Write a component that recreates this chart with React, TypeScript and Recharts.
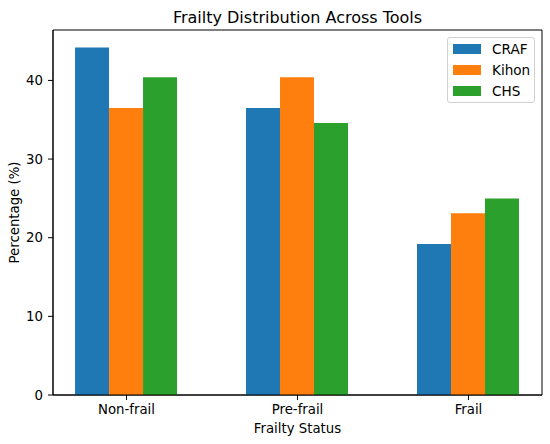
import React from "react";
import {
  BarChart,
  Bar,
  XAxis,
  YAxis,
  Legend,
  ReferenceArea,
} from "recharts";

// categories and values
const statuses = ["Non-frail", "Pre-frail", "Frail"];
const crafValues = [44.2, 36.5, 19.2];
const kihonValues = [36.5, 40.4, 23.1];
const chsValues = [40.4, 34.6, 25.0];
const yTicks = [0, 10, 20, 30, 40];

const FONT = "'DejaVu Sans', sans-serif";
const X_MIN = -0.43;
const X_MAX = 2.43;
const Y_MAX = 46.41;

const series = [
  { key: "CRAF", color: "#1f77b4" },
  { key: "Kihon", color: "#ff7f0e" },
  { key: "CHS", color: "#2ca02c" },
];

const data = statuses.map((status, i) => ({
  idx: i,
  status,
  CRAF: crafValues[i],
  Kihon: kihonValues[i],
  CHS: chsValues[i],
}));

// legend drawn in series order (recharts payload order is not guaranteed)
const LegendBox = () => (
  <div
    style={{
      boxSizing: "border-box",
      width: 88,
      height: 66,
      border: "1px solid #d0d0d0",
      borderRadius: 3,
      background: "rgba(255,255,255,0.8)",
      padding: "1px 0 0 5px",
      fontFamily: FONT,
      fontSize: 13.6,
      color: "#000",
    }}
  >
    {series.map((s) => (
      <div key={s.key} style={{ display: "flex", alignItems: "center", height: 20.7 }}>
        <span style={{ display: "inline-block", width: 28, height: 10, background: s.color }} />
        <span style={{ marginLeft: 11 }}>{s.key}</span>
      </div>
    ))}
  </div>
);

const YLabel = ({ viewBox }: any) => {
  const x = viewBox.x + 19;
  const y = viewBox.y + viewBox.height / 2;
  return (
    <text
      x={x}
      y={y}
      transform={`rotate(-90, ${x}, ${y})`}
      textAnchor="middle"
      fontFamily={FONT}
      fontSize={13.3}
      fill="#000"
    >
      Percentage (%)
    </text>
  );
};

const XLabel = ({ viewBox }: any) => (
  <text
    x={viewBox.x + viewBox.width / 2}
    y={viewBox.y + 37.7}
    textAnchor="middle"
    fontFamily={FONT}
    fontSize={13.3}
    fill="#000"
  >
    Frailty Status
  </text>
);

export default function App() {
  return (
    <div style={{ position: "absolute", left: 0, top: 0, width: 550, height: 444, background: "#fff" }}>
      <BarChart
        width={550}
        height={444}
        data={data}
        margin={{ top: 30, right: 8, bottom: 0, left: 0 }}
        barGap={0}
      >
        <XAxis
          dataKey="idx"
          type="number"
          domain={[X_MIN, X_MAX]}
          ticks={[0, 1, 2]}
          tickFormatter={(v: number) => statuses[v] ?? ""}
          height={49}
          tickSize={5}
          tickMargin={5}
          tick={{ fill: "#000", fontSize: 13.3, fontFamily: FONT }}
          tickLine={{ stroke: "#000" }}
          axisLine={{ stroke: "#000" }}
          label={(props: any) => <XLabel {...props} />}
        />
        <YAxis
          domain={[0, Y_MAX]}
          ticks={yTicks}
          width={53}
          tickSize={5}
          tickMargin={5}
          tick={{ fill: "#000", fontSize: 13.3, fontFamily: FONT }}
          tickLine={{ stroke: "#000" }}
          axisLine={{ stroke: "#000" }}
          label={(props: any) => <YLabel {...props} />}
        />
        <Legend
          layout="vertical"
          align="center"
          verticalAlign="middle"
          content={<LegendBox />}
          wrapperStyle={{ position: "absolute", top: 37, left: 447, width: 88, height: 66 }}
        />
        {series.map((s) => (
          <Bar key={s.key} dataKey={s.key} fill={s.color} barSize={34} isAnimationActive={false} />
        ))}
        <ReferenceArea
          x1={X_MIN}
          x2={X_MAX}
          y1={0}
          y2={Y_MAX}
          fill="none"
          stroke="#000"
          strokeWidth={1}
          ifOverflow="visible"
          label={{
            value: "Frailty Distribution Across Tools",
            position: "top",
            offset: 7.3,
            fill: "#000",
            fontSize: 16,
            fontFamily: FONT,
          }}
        />
      </BarChart>
    </div>
  );
}
